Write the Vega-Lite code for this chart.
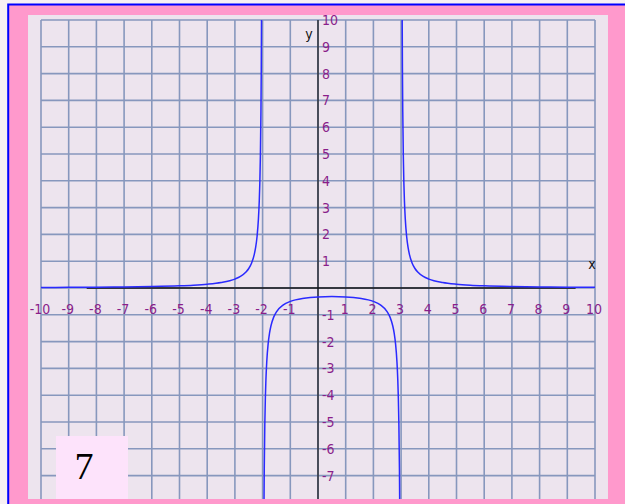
{
  "$schema": "https://vega.github.io/schema/vega-lite/v6.json",
  "width": 554,
  "height": 479,
  "padding": {"left": 41, "top": 20, "right": 30, "bottom": 5},
  "autosize": {"type": "none"},
  "background": "#f7f0f3",
  "config": {"view": {"stroke": null}},
  "layer": [
    {
      "data": {"values": [{"part": "frame"}]},
      "mark": {"type": "rect", "fill": "#ff99cc", "stroke": "#0000ff", "strokeWidth": 2},
      "encoding": {
        "x": {"datum": -11.184, "type": "quantitative", "scale": {"domain": [-10, 10], "nice": false, "zero": false}, "axis": null},
        "x2": {"datum": 11.9},
        "y": {"datum": 10.578, "type": "quantitative", "scale": {"domain": [-7.873, 10], "nice": false, "zero": false}, "axis": null},
        "y2": {"datum": -9}
      }
    },
    {
      "data": {"values": [{"part": "panel"}]},
      "mark": {"type": "rect", "fill": "#ede4ee"},
      "encoding": {
        "x": {"datum": -10.469, "type": "quantitative", "scale": {"domain": [-10, 10], "nice": false, "zero": false}, "axis": null},
        "x2": {"datum": 10.469},
        "y": {"datum": 10.187, "type": "quantitative", "scale": {"domain": [-7.873, 10], "nice": false, "zero": false}, "axis": null},
        "y2": {"datum": -7.873}
      }
    },
    {
      "data": {"values": [{"v": -10},{"v": -9},{"v": -8},{"v": -7},{"v": -6},{"v": -5},{"v": -4},{"v": -3},{"v": -2},{"v": -1},{"v": 0},{"v": 1},{"v": 2},{"v": 3},{"v": 4},{"v": 5},{"v": 6},{"v": 7},{"v": 8},{"v": 9},{"v": 10}]},
      "mark": {"type": "rule", "color": "#8797bd", "strokeWidth": 1.6},
      "encoding": {
        "x": {"field": "v", "type": "quantitative", "scale": {"domain": [-10, 10], "nice": false, "zero": false}, "axis": null}
      }
    },
    {
      "data": {"values": [{"v": -7},{"v": -6},{"v": -5},{"v": -4},{"v": -3},{"v": -2},{"v": -1},{"v": 0},{"v": 1},{"v": 2},{"v": 3},{"v": 4},{"v": 5},{"v": 6},{"v": 7},{"v": 8},{"v": 9},{"v": 10}]},
      "mark": {"type": "rule", "color": "#8797bd", "strokeWidth": 1.6},
      "encoding": {
        "y": {"field": "v", "type": "quantitative", "scale": {"domain": [-7.873, 10], "nice": false, "zero": false}, "axis": null}
      }
    },
    {
      "data": {"values": [{"part": "xaxis"}]},
      "mark": {"type": "rule", "color": "#111111", "strokeWidth": 1.5},
      "encoding": {
        "x": {"datum": -8.35, "type": "quantitative", "scale": {"domain": [-10, 10], "nice": false, "zero": false}, "axis": null},
        "x2": {"datum": 9.3},
        "y": {"datum": 0, "type": "quantitative", "scale": {"domain": [-7.873, 10], "nice": false, "zero": false}, "axis": null}
      }
    },
    {
      "data": {"values": [{"part": "yaxis"}]},
      "mark": {"type": "rule", "color": "#111111", "strokeWidth": 1.2},
      "encoding": {
        "x": {"datum": 0, "type": "quantitative", "scale": {"domain": [-10, 10], "nice": false, "zero": false}, "axis": null}
      }
    },
    {
      "data": {"values": [
        {"b": "L", "x": -10, "y": 0.0192},
        {"b": "L", "x": -9, "y": 0.0238},
        {"b": "L", "x": -8, "y": 0.0303},
        {"b": "L", "x": -7, "y": 0.04},
        {"b": "L", "x": -6, "y": 0.0556},
        {"b": "L", "x": -5, "y": 0.0833},
        {"b": "L", "x": -4.5, "y": 0.1067},
        {"b": "L", "x": -4, "y": 0.1429},
        {"b": "L", "x": -3.5, "y": 0.2051},
        {"b": "L", "x": -3, "y": 0.3333},
        {"b": "L", "x": -2.8, "y": 0.431},
        {"b": "L", "x": -2.6, "y": 0.5952},
        {"b": "L", "x": -2.5, "y": 0.7273},
        {"b": "L", "x": -2.4, "y": 0.9259},
        {"b": "L", "x": -2.3, "y": 1.2579},
        {"b": "L", "x": -2.25, "y": 1.5238},
        {"b": "L", "x": -2.2, "y": 1.9231},
        {"b": "L", "x": -2.15, "y": 2.589},
        {"b": "L", "x": -2.12, "y": 3.255},
        {"b": "L", "x": -2.1, "y": 3.9216},
        {"b": "L", "x": -2.08, "y": 4.921},
        {"b": "L", "x": -2.06, "y": 6.588},
        {"b": "L", "x": -2.05, "y": 7.921},
        {"b": "L", "x": -2.04, "y": 9.921},
        {"b": "L", "x": -2.02, "y": 19.9},
        {"b": "M", "x": -1.98, "y": -20.08},
        {"b": "M", "x": -1.96, "y": -10.08},
        {"b": "M", "x": -1.95, "y": -8.081},
        {"b": "M", "x": -1.94, "y": -6.748},
        {"b": "M", "x": -1.92, "y": -5.081},
        {"b": "M", "x": -1.9, "y": -4.0816},
        {"b": "M", "x": -1.88, "y": -3.415},
        {"b": "M", "x": -1.85, "y": -2.749},
        {"b": "M", "x": -1.8, "y": -2.0833},
        {"b": "M", "x": -1.75, "y": -1.684},
        {"b": "M", "x": -1.7, "y": -1.4184},
        {"b": "M", "x": -1.6, "y": -1.087},
        {"b": "M", "x": -1.5, "y": -0.8889},
        {"b": "M", "x": -1.25, "y": -0.6275},
        {"b": "M", "x": -1, "y": -0.5},
        {"b": "M", "x": -0.5, "y": -0.381},
        {"b": "M", "x": 0, "y": -0.3333},
        {"b": "M", "x": 0.5, "y": -0.32},
        {"b": "M", "x": 1, "y": -0.3333},
        {"b": "M", "x": 1.5, "y": -0.381},
        {"b": "M", "x": 2, "y": -0.5},
        {"b": "M", "x": 2.25, "y": -0.6275},
        {"b": "M", "x": 2.5, "y": -0.8889},
        {"b": "M", "x": 2.6, "y": -1.087},
        {"b": "M", "x": 2.7, "y": -1.4184},
        {"b": "M", "x": 2.75, "y": -1.684},
        {"b": "M", "x": 2.8, "y": -2.0833},
        {"b": "M", "x": 2.85, "y": -2.749},
        {"b": "M", "x": 2.88, "y": -3.415},
        {"b": "M", "x": 2.9, "y": -4.0816},
        {"b": "M", "x": 2.92, "y": -5.081},
        {"b": "M", "x": 2.94, "y": -6.748},
        {"b": "M", "x": 2.95, "y": -8.081},
        {"b": "M", "x": 2.96, "y": -10.08},
        {"b": "M", "x": 2.98, "y": -20.08},
        {"b": "R", "x": 3.02, "y": 19.9},
        {"b": "R", "x": 3.04, "y": 9.921},
        {"b": "R", "x": 3.05, "y": 7.921},
        {"b": "R", "x": 3.06, "y": 6.588},
        {"b": "R", "x": 3.08, "y": 4.921},
        {"b": "R", "x": 3.1, "y": 3.9216},
        {"b": "R", "x": 3.12, "y": 3.255},
        {"b": "R", "x": 3.15, "y": 2.589},
        {"b": "R", "x": 3.2, "y": 1.9231},
        {"b": "R", "x": 3.25, "y": 1.5238},
        {"b": "R", "x": 3.3, "y": 1.2579},
        {"b": "R", "x": 3.4, "y": 0.9259},
        {"b": "R", "x": 3.5, "y": 0.7273},
        {"b": "R", "x": 3.6, "y": 0.5952},
        {"b": "R", "x": 3.8, "y": 0.431},
        {"b": "R", "x": 4, "y": 0.3333},
        {"b": "R", "x": 4.5, "y": 0.2051},
        {"b": "R", "x": 5, "y": 0.1429},
        {"b": "R", "x": 5.5, "y": 0.1067},
        {"b": "R", "x": 6, "y": 0.0833},
        {"b": "R", "x": 7, "y": 0.0556},
        {"b": "R", "x": 8, "y": 0.04},
        {"b": "R", "x": 9, "y": 0.0303},
        {"b": "R", "x": 10, "y": 0.0238}
      ]},
      "mark": {"type": "line", "color": "#2a2aff", "strokeWidth": 1.5, "clip": true, "interpolate": "monotone"},
      "encoding": {
        "x": {"field": "x", "type": "quantitative", "scale": {"domain": [-10, 10], "nice": false, "zero": false}, "axis": null},
        "y": {"field": "y", "type": "quantitative", "scale": {"domain": [-7.873, 10], "nice": false, "zero": false}, "axis": null},
        "detail": {"field": "b", "type": "nominal"}
      }
    },
    {
      "data": {"values": [{"v": -10, "t": "-10"},{"v": -9, "t": "-9"},{"v": -8, "t": "-8"},{"v": -7, "t": "-7"},{"v": -6, "t": "-6"},{"v": -5, "t": "-5"},{"v": -4, "t": "-4"},{"v": -3, "t": "-3"},{"v": -2, "t": "-2"},{"v": -1, "t": "-1"},{"v": 1, "t": "1"},{"v": 2, "t": "2"},{"v": 3, "t": "3"},{"v": 4, "t": "4"},{"v": 5, "t": "5"},{"v": 6, "t": "6"},{"v": 7, "t": "7"},{"v": 8, "t": "8"},{"v": 9, "t": "9"},{"v": 10, "t": "10"}]},
      "mark": {"type": "text", "color": "#8a1e8a", "font": "DejaVu Sans Condensed, Liberation Sans, sans-serif", "fontSize": 14, "align": "center", "baseline": "middle", "dy": 22, "dx": -1},
      "encoding": {
        "x": {"field": "v", "type": "quantitative", "scale": {"domain": [-10, 10], "nice": false, "zero": false}, "axis": null},
        "y": {"datum": 0, "type": "quantitative", "scale": {"domain": [-7.873, 10], "nice": false, "zero": false}, "axis": null},
        "text": {"field": "t", "type": "nominal"}
      }
    },
    {
      "data": {"values": [{"v": -7, "t": "-7"},{"v": -6, "t": "-6"},{"v": -5, "t": "-5"},{"v": -4, "t": "-4"},{"v": -3, "t": "-3"},{"v": -2, "t": "-2"},{"v": -1, "t": "-1"},{"v": 1, "t": "1"},{"v": 2, "t": "2"},{"v": 3, "t": "3"},{"v": 4, "t": "4"},{"v": 5, "t": "5"},{"v": 6, "t": "6"},{"v": 7, "t": "7"},{"v": 8, "t": "8"},{"v": 9, "t": "9"},{"v": 10, "t": "10"}]},
      "mark": {"type": "text", "color": "#8a1e8a", "font": "DejaVu Sans Condensed, Liberation Sans, sans-serif", "fontSize": 14, "align": "left", "baseline": "middle", "dx": 4, "dy": 1},
      "encoding": {
        "x": {"datum": 0, "type": "quantitative", "scale": {"domain": [-10, 10], "nice": false, "zero": false}, "axis": null},
        "y": {"field": "v", "type": "quantitative", "scale": {"domain": [-7.873, 10], "nice": false, "zero": false}, "axis": null},
        "text": {"field": "t", "type": "nominal"}
      }
    },
    {
      "data": {"values": [{"t": "x", "px": 9.89, "py": 0.86}, {"t": "y", "px": -0.33, "py": 9.44}]},
      "mark": {"type": "text", "color": "#111111", "font": "DejaVu Sans Condensed, Liberation Sans, sans-serif", "fontSize": 14, "align": "center", "baseline": "middle"},
      "encoding": {
        "x": {"field": "px", "type": "quantitative", "scale": {"domain": [-10, 10], "nice": false, "zero": false}, "axis": null},
        "y": {"field": "py", "type": "quantitative", "scale": {"domain": [-7.873, 10], "nice": false, "zero": false}, "axis": null},
        "text": {"field": "t", "type": "nominal"}
      }
    },
    {
      "data": {"values": [{"part": "labelbox"}]},
      "mark": {"type": "rect", "fill": "#fde3fb"},
      "encoding": {
        "x": {"datum": -9.458, "type": "quantitative", "scale": {"domain": [-10, 10], "nice": false, "zero": false}, "axis": null},
        "x2": {"datum": -6.859},
        "y": {"datum": -5.522, "type": "quantitative", "scale": {"domain": [-7.873, 10], "nice": false, "zero": false}, "axis": null},
        "y2": {"datum": -7.873}
      }
    },
    {
      "data": {"values": [{"t": "7", "px": -8.45, "py": -6.72}]},
      "mark": {"type": "text", "color": "#000000", "font": "Liberation Serif", "fontSize": 38, "align": "center", "baseline": "middle"},
      "encoding": {
        "x": {"field": "px", "type": "quantitative", "scale": {"domain": [-10, 10], "nice": false, "zero": false}, "axis": null},
        "y": {"field": "py", "type": "quantitative", "scale": {"domain": [-7.873, 10], "nice": false, "zero": false}, "axis": null},
        "text": {"field": "t", "type": "nominal"}
      }
    }
  ]
}
